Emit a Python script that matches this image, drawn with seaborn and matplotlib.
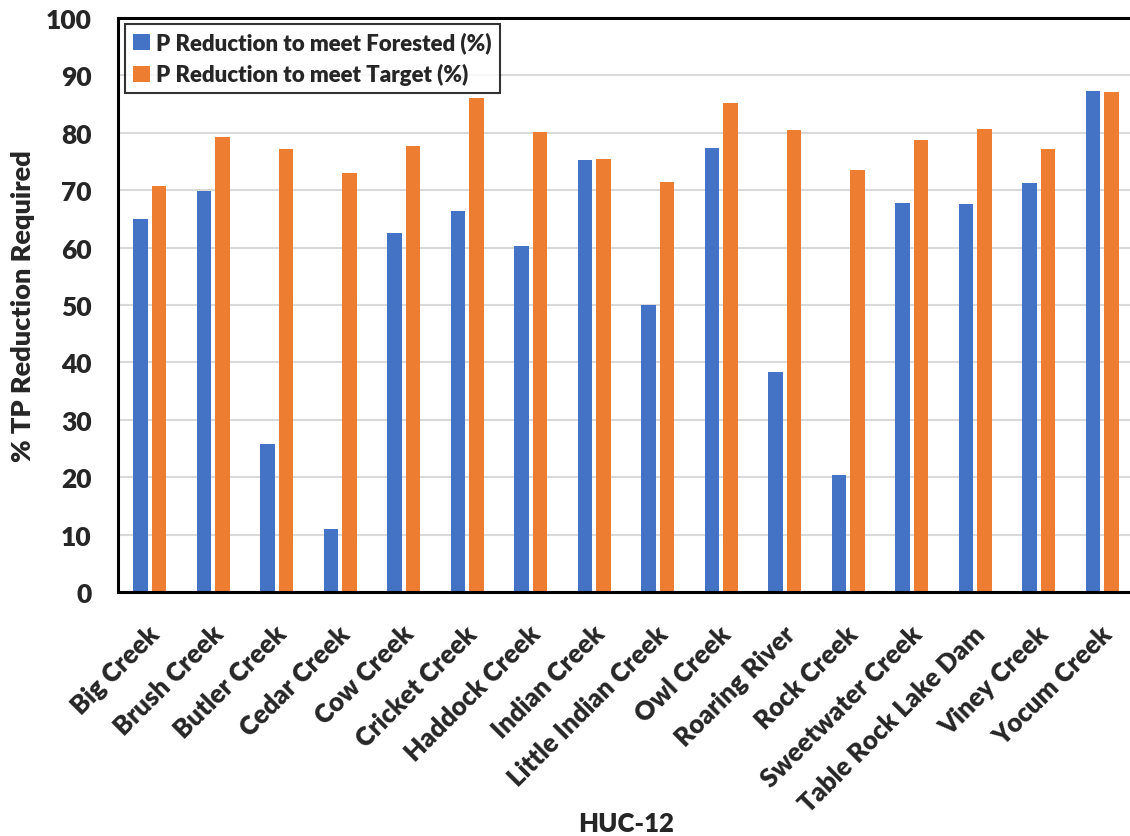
import matplotlib
matplotlib.use("Agg")
import matplotlib.pyplot as plt
import matplotlib.transforms as mtransforms
import seaborn as sns
import pandas as pd

categories = ["Big Creek", "Brush Creek", "Butler Creek", "Cedar Creek", "Cow Creek",
              "Cricket Creek", "Haddock Creek", "Indian Creek", "Little Indian Creek",
              "Owl Creek", "Roaring River", "Rock Creek", "Sweetwater Creek",
              "Table Rock Lake Dam", "Viney Creek", "Yocum Creek"]
forested = [64.9, 69.9, 25.7, 11.0, 62.5, 66.3, 60.3, 75.2, 50.0,
            77.4, 38.4, 20.3, 67.8, 67.6, 71.3, 87.3]
target = [70.7, 79.2, 77.2, 73.0, 77.7, 86.1, 80.1, 75.4, 71.4,
          85.2, 80.5, 73.6, 78.8, 80.6, 77.1, 87.1]
series_names = ["P Reduction to meet Forested (%)", "P Reduction to meet Target (%)"]
y_ticks = [0, 10, 20, 30, 40, 50, 60, 70, 80, 90, 100]

df = pd.DataFrame({
    "HUC-12": categories * 2,
    "value": forested + target,
    "series": [series_names[0]] * len(categories) + [series_names[1]] * len(categories),
})

sns.set_style("white")
plt.rcParams["font.family"] = ["Lato", "DejaVu Sans"]
plt.rcParams["font.weight"] = "bold"
W = "heavy"

fig = plt.figure(figsize=(11.3, 8.37), dpi=100)
ax = fig.add_axes([118 / 1130, (837 - 593) / 837, 1016 / 1130, 574 / 837])

sns.barplot(data=df, x="HUC-12", y="value", hue="series",
            palette=["#4472C4", "#ED7D31"], width=0.583, gap=0.22,
            ax=ax, linewidth=0, saturation=1)

ax.set_ylim(0, 100)
ax.set_xlim(-0.5, len(categories) - 0.5)
ax.set_yticks(y_ticks)
ax.yaxis.grid(True, color="#d9d9d9", linewidth=1.5)
ax.set_axisbelow(True)
for side in ["left", "bottom", "top"]:
    ax.spines[side].set_visible(True)
    ax.spines[side].set_color("black")
    ax.spines[side].set_linewidth(2.2)
ax.spines["right"].set_visible(False)

ax.tick_params(axis="y", length=0, pad=19, labelsize=19)
ax.tick_params(axis="x", length=0, pad=27, labelsize=18.5)
for lab in ax.get_yticklabels():
    lab.set_fontweight(W)
offset = mtransforms.ScaledTranslation(6 / 100, 0, fig.dpi_scale_trans)
for lab in ax.get_xticklabels():
    lab.set_rotation(45)
    lab.set_ha("right")
    lab.set_va("center")
    lab.set_rotation_mode("anchor")
    lab.set_fontweight(W)
    lab.set_transform(lab.get_transform() + offset)

ax.set_ylabel("% TP Reduction Required", fontsize=19.5, fontweight=W)
ax.set_xlabel("HUC-12", fontsize=18.5, fontweight=W)
ax.xaxis.set_label_coords(0.5, -0.381)
ax.yaxis.set_label_coords(-0.082, 0.5)

leg = ax.legend(loc="upper left", bbox_to_anchor=(0.007, 0.99), borderaxespad=0,
                frameon=True, fancybox=False, edgecolor="black",
                prop={"size": 16, "weight": W}, handlelength=0.75,
                handleheight=0.75, handletextpad=0.3, labelspacing=0.45,
                borderpad=0.35)
leg.get_frame().set_linewidth(1.5)
leg.set_title(None)

fig.savefig("out.png", dpi=100)
